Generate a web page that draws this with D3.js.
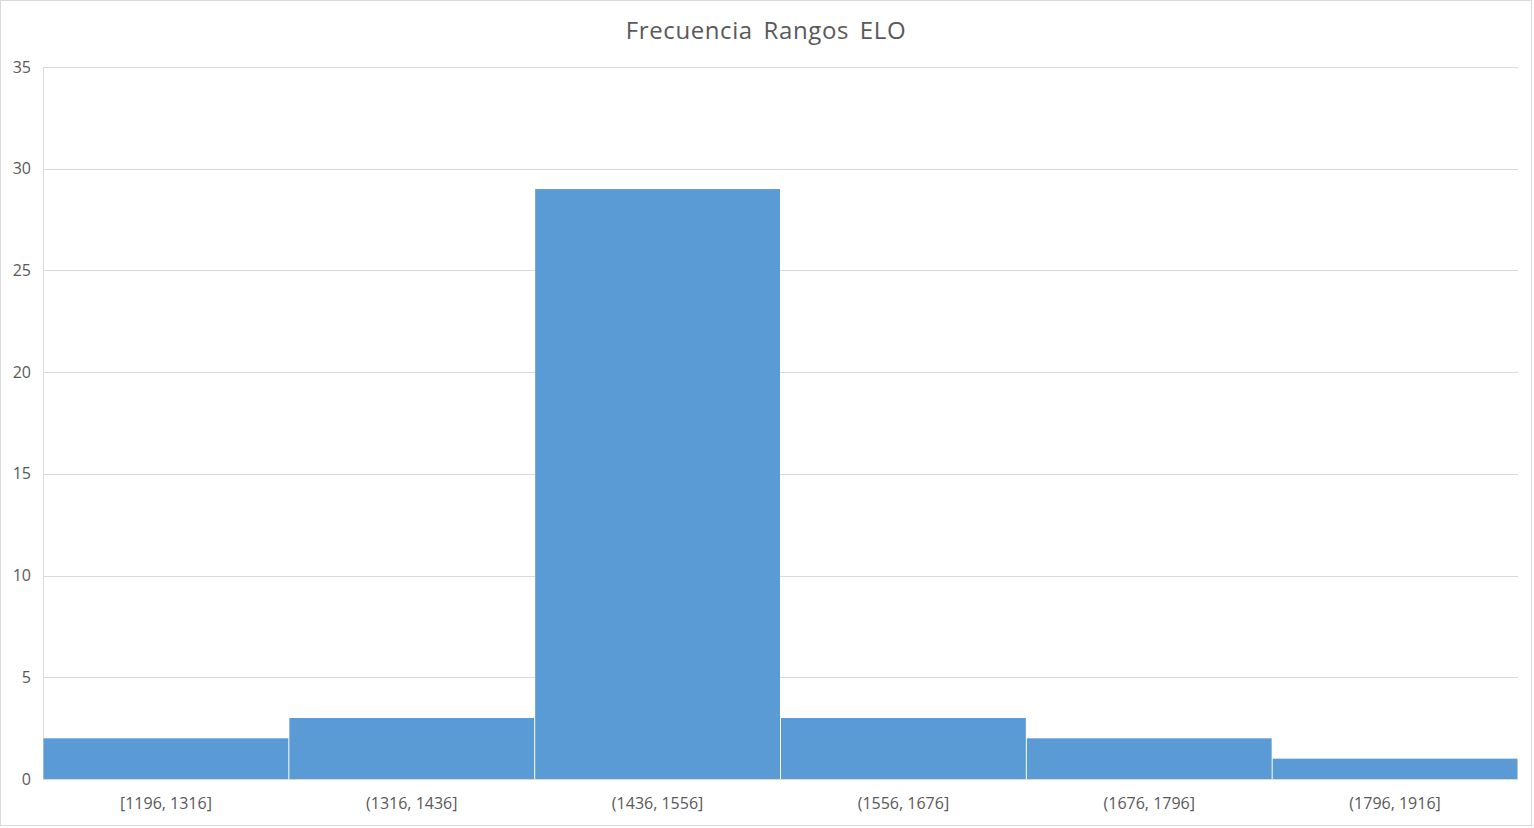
<!DOCTYPE html>
<html><head><meta charset="utf-8">
<script src="https://cdn.jsdelivr.net/npm/d3@7"></script>
<style>body{margin:0;background:#fff;}svg{display:block;}</style>
</head><body>
<svg id="c" width="1534" height="828"></svg>
<script>
const categories = ["[1196, 1316]","(1316, 1436]","(1436, 1556]","(1556, 1676]","(1676, 1796]","(1796, 1916]"];
const values = [2, 3, 29, 3, 2, 1];
const yTicks = [0, 5, 10, 15, 20, 25, 30, 35];
const title = "Frecuencia Rangos ELO";

const svg = d3.select("#c");
const W = 1534, H = 828;
const m = {left: 43, right: 16, top: 67, bottom: 49};
const font = "'Open Sans', 'Liberation Sans', sans-serif";

svg.append("rect").attr("x",0.5).attr("y",0.5).attr("width",W-3).attr("height",H-3)
  .attr("fill","#fff").attr("stroke","#d9d9d9");

const x = d3.scaleBand().domain(categories).range([m.left, W - m.right]).paddingInner(0).paddingOuter(0);
const y = d3.scaleLinear().domain([0, 35]).range([H - m.bottom, m.top]);

// gridlines
svg.append("g").selectAll("line").data(yTicks).join("line")
  .attr("x1", m.left).attr("x2", W - m.right)
  .attr("y1", d => Math.round(y(d)) + 0.5).attr("y2", d => Math.round(y(d)) + 0.5)
  .attr("stroke", "#d9d9d9").attr("stroke-width", 1);

// y axis line
svg.append("line").attr("x1", m.left + 0.5).attr("x2", m.left + 0.5)
  .attr("y1", y(35)).attr("y2", y(0)).attr("stroke", "#d9d9d9");

// bars
svg.append("g").selectAll("rect").data(values).join("rect")
  .attr("x", (d,i) => x(categories[i]) + 0.5)
  .attr("width", x.bandwidth() - 1)
  .attr("y", d => y(d))
  .attr("height", d => y(0) - y(d))
  .attr("fill", "#5b9bd5");

// y tick labels
const yAxis = d3.axisLeft(y).tickValues(yTicks).tickSize(0).tickPadding(12);
const gy = svg.append("g").attr("transform", `translate(${m.left},0)`).call(yAxis);
gy.select(".domain").remove();
gy.selectAll("text").attr("font-family", font).attr("font-size", 16).attr("fill", "#595959");

// x labels
const xAxis = d3.axisBottom(x).tickSize(0).tickPadding(19);
const gx = svg.append("g").attr("transform", `translate(0,${y(0)})`).call(xAxis);
gx.select(".domain").remove();
gx.selectAll("text").attr("font-family", font).attr("font-size", 16).attr("fill", "#595959");

// title
svg.append("text").attr("x", 766).attr("y", 39)
  .attr("text-anchor", "middle").attr("font-family", font).attr("font-size", 24)
  .attr("letter-spacing", 0.6).attr("word-spacing", 4)
  .attr("fill", "#595959").text(title);
</script>
</body></html>
